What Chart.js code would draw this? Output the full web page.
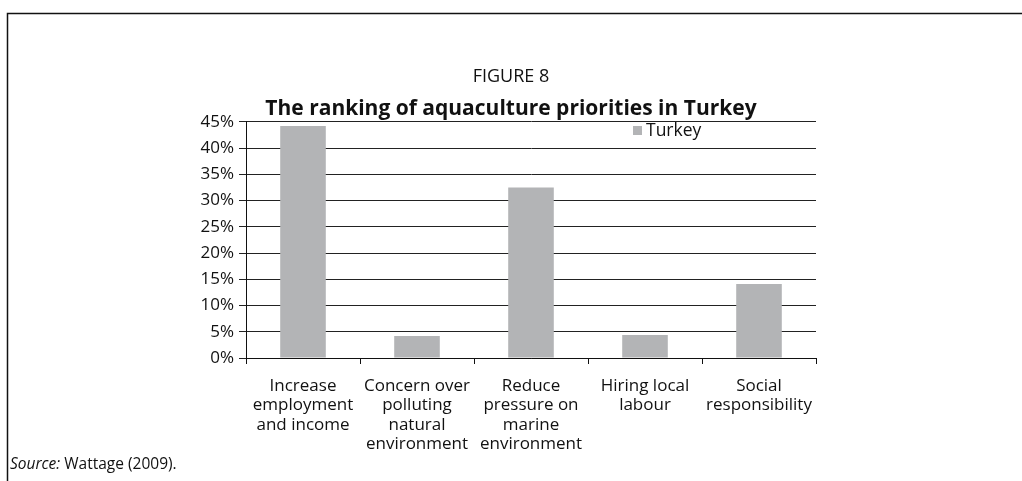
<!DOCTYPE html>
<html>
<head>
<meta charset="utf-8">
<script src="https://cdn.jsdelivr.net/npm/chart.js@4/dist/chart.umd.min.js"></script>
<style>
  html, body { margin: 0; padding: 0; background: #fff; }
  #wrap { width: 1022px; height: 481px; }
</style>
</head>
<body>
<div id="wrap"><canvas id="fig8"></canvas></div>
<script>
// data
const categories = [
  ['Increase', 'employment', 'and income'],
  ['Concern over', 'polluting', 'natural', 'environment'],
  ['Reduce', 'pressure on', 'marine', 'environment'],
  ['Hiring local', 'labour'],
  ['Social', 'responsibility']
];
const turkey = [44.2, 4.2, 32.5, 4.4, 14.1];
const yTicks = [0, 5, 10, 15, 20, 25, 30, 35, 40, 45];

const FONT = "'Open Sans', 'Noto Sans', sans-serif";
const barColor = '#b3b4b6';

// frame lines, in-plot legend and source note
const extras = {
  id: 'extras',
  afterDraw(chart) {
    const ctx = chart.ctx;
    ctx.save();
    ctx.strokeStyle = '#111';
    ctx.lineWidth = 1.5;
    ctx.beginPath();
    ctx.moveTo(7.5, 481);
    ctx.lineTo(7.5, 13.5);
    ctx.lineTo(1022, 13.5);
    ctx.stroke();

    // legend
    const ds = chart.data.datasets[0];
    ctx.fillStyle = ds.backgroundColor;
    ctx.fillRect(633, 126, 9, 9);
    ctx.fillStyle = '#111';
    ctx.font = '17.5px ' + FONT;
    ctx.textBaseline = 'middle';
    ctx.textAlign = 'left';
    ctx.fillText(ds.label, 646, 131);

    // source
    ctx.font = 'italic 15.5px ' + FONT;
    ctx.fillText('Source:', 10, 465);
    const w = ctx.measureText('Source: ').width;
    ctx.font = '15.5px ' + FONT;
    ctx.fillText('Wattage (2009).', 10 + w, 465);
    ctx.restore();
  }
};

new Chart(document.getElementById('fig8'), {
  type: 'bar',
  data: {
    labels: categories,
    datasets: [{
      label: 'Turkey',
      data: turkey,
      backgroundColor: barColor,
      borderWidth: 0,
      barPercentage: 1,
      categoryPercentage: 0.4
    }]
  },
  options: {
    responsive: true,
    maintainAspectRatio: false,
    animation: false,
    layout: { padding: 0 },
    plugins: {
      legend: { display: false },
      tooltip: { enabled: false },
      title: {
        display: true,
        text: 'FIGURE 8',
        color: '#111',
        font: { family: FONT, size: 18, weight: 'normal' },
        padding: { top: 66, bottom: 9 }
      },
      subtitle: {
        display: true,
        text: 'The ranking of aquaculture priorities in Turkey',
        color: '#111',
        font: { family: FONT, size: 21, weight: 'bold' },
        padding: { top: 0, bottom: 0 }
      }
    },
    scales: {
      x: {
        afterFit(s) { s.height = 123; },
        grid: { display: true, drawOnChartArea: false, drawTicks: true, tickLength: 6, color: '#111', offset: true },
        border: { display: true, color: '#111', width: 1 },
        ticks: { color: '#111', font: { family: FONT, size: 17, lineHeight: 1.15 }, padding: 12, maxRotation: 0, autoSkip: false }
      },
      y: {
        min: 0,
        max: 45,
        afterFit(s) { s.width = 246; },
        afterBuildTicks(s) { s.ticks = yTicks.map(v => ({ value: v })); },
        grid: { color: '#222', lineWidth: 1, tickLength: 7 },
        border: { display: true, color: '#111', width: 1 },
        ticks: {
          color: '#111',
          font: { family: FONT, size: 17 },
          padding: 5,
          callback: v => v + '%'
        }
      },
      // empty right-hand space so the titles stay centred on the page
      pad: {
        type: 'linear',
        position: 'right',
        afterFit(s) { s.width = 206; },
        grid: { display: false },
        border: { display: false },
        ticks: { display: false }
      }
    }
  },
  plugins: [extras]
});
</script>
</body>
</html>
